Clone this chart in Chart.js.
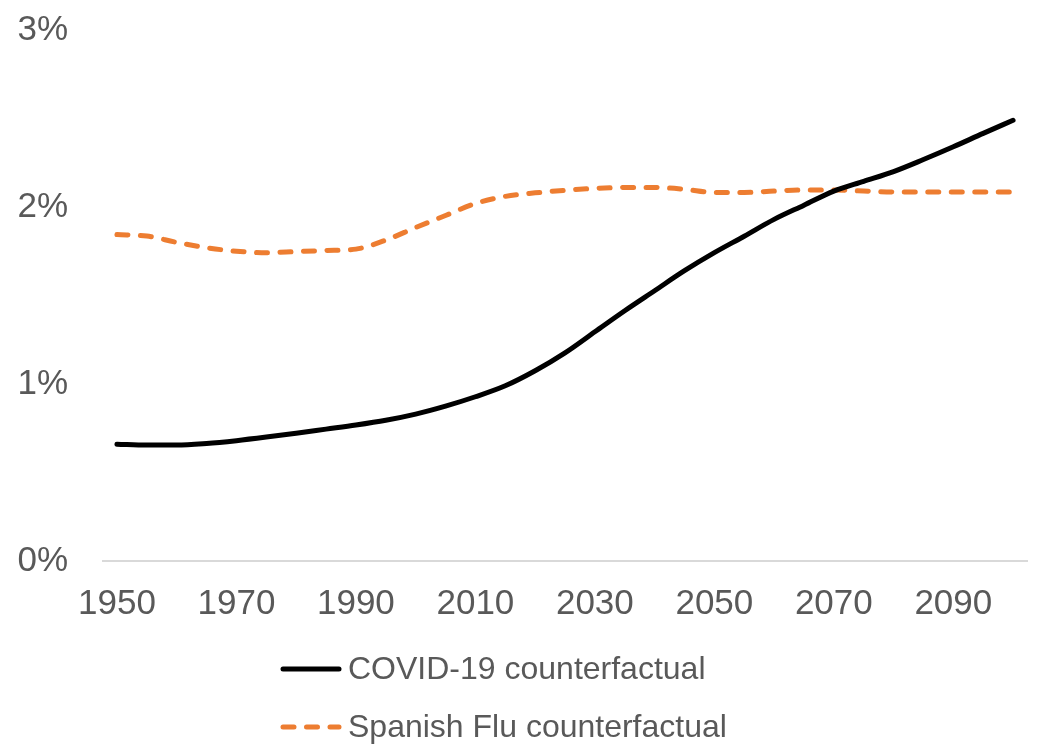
<!DOCTYPE html>
<html>
<head>
<meta charset="utf-8">
<script src="https://cdn.jsdelivr.net/npm/chart.js@4"></script>
<style>
  html, body { margin: 0; padding: 0; background: #ffffff; }
  #wrap { width: 1038px; height: 749px; }
</style>
</head>
<body>
<div id="wrap"><canvas id="chart" width="1038" height="749"></canvas></div>
<script>
const years = [1950, 1955, 1960, 1965, 1970, 1975, 1980, 1985, 1990, 1995,
  2000, 2005, 2010, 2015, 2020, 2025, 2030, 2035, 2040, 2045,
  2050, 2055, 2060, 2065, 2070, 2075, 2080, 2085, 2090, 2095, 2100];

const covid = [0.66, 0.655, 0.655, 0.664, 0.68, 0.70, 0.722, 0.745, 0.768, 0.795,
  0.83, 0.875, 0.928, 0.99, 1.075, 1.176, 1.295, 1.414, 1.527, 1.64,
  1.742, 1.835, 1.93, 2.01, 2.09, 2.145, 2.2, 2.268, 2.34, 2.416, 2.49];

const flu = [1.844, 1.836, 1.80, 1.77, 1.75, 1.742, 1.748, 1.754, 1.762, 1.813,
  1.884, 1.952, 2.02, 2.06, 2.08, 2.094, 2.105, 2.11, 2.11, 2.10,
  2.082, 2.082, 2.09, 2.096, 2.096, 2.09, 2.085, 2.085, 2.085, 2.085, 2.085];

const yTicks = [0, 1, 2, 3];

const GREY = '#595959';
const FONT = '"Liberation Sans", Arial, sans-serif';

// leyenda vertical dibujada a mano (la de Chart.js centra cada fila)
const legendaVertical = {
  id: 'legendaVertical',
  afterDraw(chart) {
    const ctx = chart.ctx;
    const x0 = 280, largo = 62;
    const filas = [669, 727];
    ctx.save();
    chart.data.datasets.forEach((ds, i) => {
      const y = filas[i];
      ctx.beginPath();
      ctx.lineWidth = ds.borderWidth;
      ctx.strokeStyle = ds.borderColor;
      ctx.lineCap = 'round';
      ctx.setLineDash(ds.borderDash || []);
      ctx.moveTo(x0 + 3, y);
      ctx.lineTo(x0 + largo - 3, y);
      ctx.stroke();
      ctx.setLineDash([]);
      ctx.fillStyle = GREY;
      ctx.font = '32px ' + FONT;
      ctx.textBaseline = 'middle';
      ctx.textAlign = 'left';
      ctx.fillText(ds.label, x0 + largo + 6, y + 1);
    });
    ctx.restore();
  }
};

new Chart(document.getElementById('chart'), {
  type: 'line',
  data: {
    labels: years,
    datasets: [
      {
        label: 'COVID-19 counterfactual',
        data: covid,
        borderColor: '#000000',
        borderWidth: 5,
        pointRadius: 0,
        cubicInterpolationMode: 'monotone',
        borderCapStyle: 'round',
      },
      {
        label: 'Spanish Flu counterfactual',
        data: flu,
        borderColor: '#ED7D31',
        borderWidth: 5,
        borderDash: [11, 12.5],
        pointRadius: 0,
        cubicInterpolationMode: 'monotone',
        borderCapStyle: 'round',
      },
    ],
  },
  options: {
    responsive: false,
    animation: false,
    layout: { padding: { left: 16, right: 10, top: 30, bottom: 110 } },
    plugins: { legend: { display: false }, tooltip: { enabled: false } },
    scales: {
      x: {
        offset: true,
        grid: { display: false },
        border: { display: false },
        ticks: {
          autoSkip: false,
          maxRotation: 0,
          color: GREY,
          font: { family: FONT, size: 35 },
          padding: 14,
          callback: (v, i) => (i % 4 === 0 ? years[i] : ''),
        },
      },
      y: {
        min: yTicks[0],
        max: yTicks[yTicks.length - 1],
        border: { display: false },
        afterBuildTicks: (axis) => { axis.ticks = yTicks.map(v => ({ value: v })); },
        afterFit: (axis) => {
          axis.width = 86;
          axis.paddingTop = 0;
          axis.paddingBottom = 0;
        },
        grid: {
          drawTicks: false,
          lineWidth: 2,
          color: (c) => (c.tick && c.tick.value === 0 ? '#d9d9d9' : 'rgba(0,0,0,0)'),
        },
        ticks: {
          color: GREY,
          font: { family: FONT, size: 35 },
          padding: 34,
          callback: (v) => v + '%',
        },
      },
    },
  },
  plugins: [legendaVertical],
});
</script>
</body>
</html>
